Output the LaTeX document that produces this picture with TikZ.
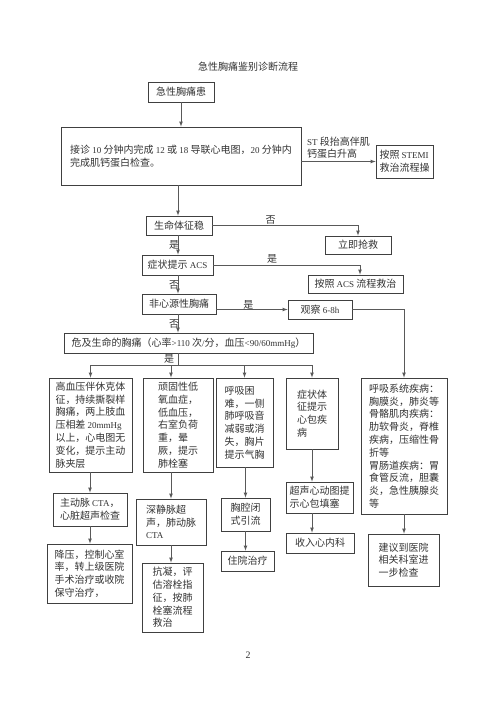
\documentclass[tikz,border=0pt]{standalone}
\usepackage{fontspec}
\setmainfont{Noto Sans CJK SC}
\newfontfamily\enfont[Scale=0.9]{Liberation Serif}
\newcommand{\en}[1]{{\enfont #1}}
\usetikzlibrary{arrows,calc}

\begin{document}
\begin{tikzpicture}[x=1pt, y=-1pt,
  box/.style={draw=black!75, line width=0.8pt, align=left, inner xsep=2pt, inner ysep=3pt,
    text=black!80, font=\fontsize{10}{12.8}\selectfont},
  link/.style={draw=black!65, line width=0.7pt},
  arr/.style={link, -latex},
  tag/.style={inner sep=1pt, text=black!80, font=\fontsize{10}{12}\selectfont}]

\useasboundingbox[fill=white] (0,0) rectangle (496,702);

% ================= TOP: ENTRY =================
\node[tag] (title) at (248,67) {急性胸痛鉴别诊断流程};

\node[box, minimum width=66pt, minimum height=20pt] (start) at (181,92) {急性胸痛患};

\node[box, minimum width=240pt, minimum height=58pt] (ecg) at (181,156)
{接诊 \en{10} 分钟内完成 \en{12} 或 \en{18} 导联心电图，\en{20} 分钟内\\
完成肌钙蛋白检查。};

\node[box, minimum width=57pt, minimum height=33pt] (stemi) at (404.5,161.5)
{按照 \en{STEMI}\\救治流程操};

% ================= MIDDLE: DECISIONS =================
\coordinate (bus) at (178,365);

\node[box, minimum width=66pt, minimum height=19pt] (vital) at (179,225.5) {生命体征稳};
\node[box, minimum width=66pt, minimum height=18pt] (rescue) at (358,245) {立即抢救};

\node[box, minimum width=71pt, minimum height=20pt] (acs) at (177.5,265) {症状提示 \en{ACS}};
\node[box, minimum width=95pt, minimum height=18pt] (acsflow) at (355.5,284) {按照 \en{ACS} 流程救治};

\node[box, minimum width=74pt, minimum height=20pt] (noncard) at (179,304) {非心源性胸痛};
\node[box, minimum width=64pt, minimum height=19pt] (observe) at (320,309.5) {观察 \en{6-8h}};

\node[box, minimum width=249pt, minimum height=20pt] (danger) at (188.5,343)
{危及生命的胸痛（心率\en{>110} 次\en{/}分，血压\en{<90/60mmHg}）};

% ================= BOTTOM: COLUMNS =================
\node[box, minimum width=83pt, minimum height=94pt] (aorta) at (90.5,425)
{高血压伴休克体\\征，持续撕裂样\\胸痛，两上肢血\\压相差 \en{20mmHg}\\以上，心电图无\\变化，提示主动\\脉夹层};
\node[box, minimum width=70pt, minimum height=94pt] (pe) at (178,425)
{顽固性低\\氧血症，\\低血压，\\右室负荷\\重，晕\\厥，提示\\肺栓塞};
\node[box, minimum width=57pt, minimum height=89pt] (pneumo) at (244.5,422.5)
{呼吸困\\难，一侧\\肺呼吸音\\减弱或消\\失，胸片\\提示气胸};
\node[box, minimum width=52pt, minimum height=71pt] (pericard) at (312,413.5)
{症状体\\征提示\\心包疾\\病};
\node[box, minimum width=86pt, minimum height=136pt] (resp) at (404,446)
{呼吸系统疾病：\\胸膜炎，肺炎等\\骨骼肌肉疾病：\\肋软骨炎，脊椎\\疾病，压缩性骨\\折等\\胃肠道疾病：胃\\食管反流，胆囊\\炎，急性胰腺炎\\等};

\node[box, minimum width=74pt, minimum height=33pt] (cta) at (90,509.5)
{主动脉 \en{CTA}，\\心脏超声检查};
\node[box, minimum width=70pt, minimum height=46pt] (dvt) at (171,522)
{深静脉超\\声，肺动脉\\\en{CTA}};
\node[box, minimum width=49pt, minimum height=33pt] (drain) at (245.5,514.5)
{胸腔闭\\式引流};
\node[box, minimum width=67pt, minimum height=31pt] (echo) at (319.5,497.5)
{超声心动图提\\示心包填塞};

\node[box, minimum width=85pt, minimum height=59pt] (treat) at (89.5,573.5)
{降压，控制心室\\率，转上级医院\\手术治疗或收院\\保守治疗，};
\node[box, minimum width=61pt, minimum height=69pt] (anticoag) at (172.5,597.5)
{抗凝，评\\估溶栓指\\征，按肺\\栓塞流程\\救治};
\node[box, minimum width=53pt, minimum height=20pt] (hosp) at (247.5,561) {住院治疗};
\node[box, minimum width=68pt, minimum height=20pt] (cardio) at (320,543) {收入心内科};
\node[box, minimum width=71pt, minimum height=52pt] (advice) at (403.5,560)
{建议到医院\\相关科室进\\一步检查};

\node[tag, font=\enfont\fontsize{11}{12}\selectfont] (page) at (248,655) {2};

% ================= CONNECTORS =================
\draw[arr] (start.south) -- (ecg.north);
\draw[arr] (ecg.east |- stemi.west) --
  node[above, tag, align=left, inner sep=3pt] {\en{ST} 段抬高伴肌\\钙蛋白升高} (stemi.west);
\draw[arr] (ecg.south -| bus) -- (vital.north -| bus);

\draw[arr] (vital.east) -| node[pos=0.2, above, tag] {否} (rescue.north);
\draw[arr] (vital.south -| bus) -- node[midway, xshift=-4pt, tag, inner sep=0pt] {是} (acs.north -| bus);

\draw[arr] (acs.east) -| node[pos=0.2, above, tag] {是} ([xshift=4.5pt]acsflow.north);
\draw[arr] (acs.south -| bus) -- node[midway, xshift=-4pt, tag, inner sep=0pt] {否} (noncard.north -| bus);

\draw[arr] (observe.west -| noncard.east) -- node[pos=0.45, above, tag, inner sep=0pt] {是} (observe.west);
\draw[arr] (noncard.south -| bus) -- node[midway, xshift=-4pt, tag, inner sep=0pt] {否} (danger.north -| bus);
\draw[arr] (observe.east) -| (resp.north);

% branch bus
\draw[link] (danger.south -| bus) -- node[midway, xshift=-9pt, tag, inner sep=0pt] {是} (bus);
\draw[link] (bus -| aorta) -- (bus -| pericard);
\draw[arr] (bus -| aorta) -- (aorta.north);
\draw[arr] (bus -| dvt) -- (pe.north -| dvt);
\draw[arr] (bus -| pneumo) -- (pneumo.north);
\draw[arr] (bus -| pericard) -- (pericard.north);

% column chains
\draw[arr] (aorta.south -| cta) -- (cta.north);
\draw[arr] (cta.south) -- (treat.north -| cta);
\draw[arr] (pe.south -| dvt) -- (dvt.north);
\draw[arr] (dvt.south) -- (anticoag.north -| dvt);
\draw[arr] (pneumo.south -| drain) -- (drain.north);
\draw[arr] (drain.south) -- (hosp.north -| drain);
\draw[arr] (pericard.south) -- (echo.north -| pericard);
\draw[arr] (echo.south -| pericard) -- (cardio.north -| pericard);
\draw[arr] (resp.south) -- (advice.north -| resp);

\end{tikzpicture}
\end{document}
